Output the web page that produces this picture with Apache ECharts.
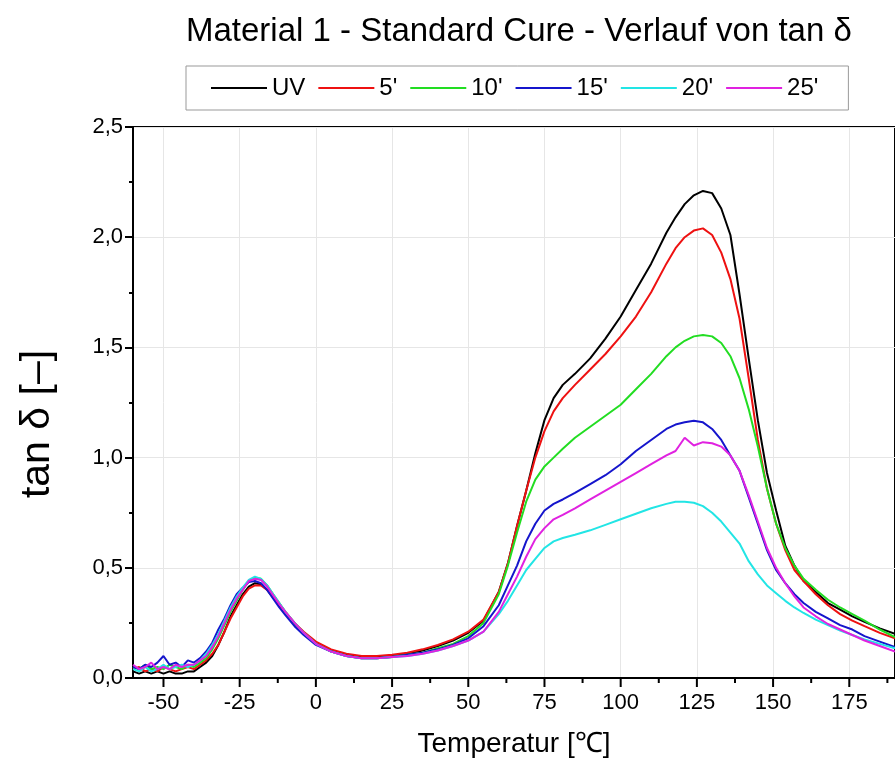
<!DOCTYPE html>
<html>
<head>
<meta charset="utf-8">
<script src="https://cdn.jsdelivr.net/npm/echarts@6/dist/echarts.min.js"></script>
<style>
html,body{margin:0;padding:0;background:#fff;}
#chart{width:895px;height:765px;}
</style>
</head>
<body>
<div id="chart"></div>
<script>
const titleText = "Material 1 - Standard Cure - Verlauf von tan δ";
const xAxisName = "Temperatur [℃]";
const yAxisName = "tan δ [–]";
const seriesNames = ["UV", "5'", "10'", "15'", "20'", "25'"];
const xTickValues = [-50, -25, 0, 25, 50, 75, 100, 125, 150, 175];
const xMinorTickValues = [-37.5, -12.5, 12.5, 37.5, 62.5, 87.5, 112.5, 137.5, 162.5, 187.5];

const temps = [-60,-58,-56,-54,-52,-50,-48,-46,-44,-42,-40,-38,-36,-34,-32,-30,-28,-26,-24,-22,-20,-18,-16,-14,-12,-10,
  -7,-4,0,
  5,10,15,20,25,30,35,40,45,50,55,
  60,63,66,69,72,75,78,81,
  85,90,95,100,105,110,115,
  118,121,124,127,130,133,136,139,142,145,148,151,154,157,160,
  164,168,172,176,180,
  185,190];

const uv = [0.03,0.02,0.03,0.02,0.03,0.02,0.03,0.02,0.02,0.03,0.03,0.05,0.07,0.10,0.15,0.21,0.28,0.33,0.38,0.415,0.43,0.425,0.40,0.365,0.33,0.295,
  0.245,0.205,0.16,
  0.125,0.105,0.095,0.095,0.10,0.11,0.125,0.145,0.17,0.205,0.26,
  0.39,0.52,0.69,0.85,1.02,1.17,1.27,1.33,
  1.38,1.45,1.54,1.64,1.76,1.88,2.02,
  2.09,2.15,2.19,2.21,2.20,2.13,2.01,1.74,1.45,1.17,0.93,0.76,0.60,0.51,0.44,
  0.39,0.34,0.31,0.28,0.255,
  0.225,0.20];

const m5 = [0.04,0.05,0.03,0.04,0.03,0.05,0.04,0.03,0.04,0.05,0.04,0.06,0.08,0.11,0.15,0.21,0.27,0.32,0.37,0.405,0.42,0.42,0.40,0.37,0.335,0.30,
  0.25,0.21,0.165,
  0.13,0.11,0.10,0.10,0.105,0.115,0.13,0.15,0.175,0.21,0.265,
  0.39,0.52,0.69,0.85,1.00,1.12,1.21,1.27,
  1.33,1.40,1.47,1.55,1.64,1.75,1.88,
  1.95,2.00,2.03,2.04,2.01,1.93,1.81,1.63,1.36,1.08,0.86,0.70,0.58,0.49,0.44,
  0.38,0.33,0.29,0.26,0.235,
  0.205,0.18];

const m10 = [0.05,0.04,0.06,0.04,0.05,0.04,0.06,0.05,0.04,0.06,0.05,0.07,0.09,0.13,0.18,0.24,0.30,0.35,0.40,0.44,0.455,0.45,0.42,0.38,0.34,0.30,
  0.25,0.205,0.155,
  0.12,0.10,0.09,0.09,0.095,0.105,0.115,0.135,0.155,0.19,0.25,
  0.38,0.51,0.66,0.80,0.90,0.96,1.00,1.04,
  1.09,1.14,1.19,1.24,1.31,1.38,1.46,
  1.50,1.53,1.55,1.556,1.55,1.52,1.46,1.36,1.22,1.05,0.86,0.70,0.59,0.51,0.45,
  0.40,0.355,0.32,0.29,0.26,
  0.22,0.185];

const m15 = [0.05,0.04,0.06,0.05,0.07,0.10,0.06,0.07,0.05,0.08,0.07,0.09,0.12,0.16,0.22,0.27,0.33,0.38,0.41,0.435,0.44,0.43,0.40,0.36,0.32,0.285,
  0.235,0.195,0.15,
  0.12,0.10,0.09,0.09,0.095,0.105,0.115,0.13,0.15,0.18,0.235,
  0.33,0.42,0.51,0.62,0.70,0.76,0.79,0.81,
  0.84,0.88,0.92,0.97,1.03,1.08,1.13,
  1.15,1.16,1.167,1.16,1.13,1.08,1.01,0.94,0.82,0.70,0.58,0.49,0.43,0.38,0.34,
  0.30,0.27,0.24,0.22,0.19,
  0.165,0.14];

const m20 = [0.04,0.03,0.05,0.03,0.04,0.06,0.04,0.05,0.06,0.05,0.06,0.08,0.11,0.15,0.20,0.26,0.32,0.37,0.41,0.445,0.46,0.45,0.42,0.38,0.34,0.30,
  0.25,0.205,0.155,
  0.12,0.10,0.09,0.09,0.095,0.10,0.11,0.125,0.145,0.17,0.21,
  0.29,0.35,0.42,0.49,0.54,0.59,0.62,0.635,
  0.65,0.67,0.695,0.72,0.745,0.77,0.79,
  0.80,0.80,0.795,0.78,0.75,0.71,0.66,0.61,0.53,0.47,0.42,0.385,0.35,0.32,0.295,
  0.265,0.24,0.215,0.195,0.175,
  0.155,0.135];

const m25 = [0.06,0.04,0.05,0.07,0.04,0.05,0.04,0.06,0.05,0.06,0.06,0.08,0.10,0.14,0.19,0.25,0.31,0.36,0.40,0.44,0.45,0.445,0.415,0.375,0.335,0.30,
  0.25,0.205,0.155,
  0.12,0.10,0.09,0.09,0.095,0.10,0.11,0.125,0.145,0.17,0.21,
  0.30,0.38,0.46,0.55,0.63,0.68,0.72,0.74,
  0.77,0.81,0.85,0.89,0.93,0.97,1.01,
  1.03,1.09,1.055,1.07,1.065,1.05,1.01,0.94,0.83,0.71,0.59,0.50,0.43,0.37,0.32,
  0.28,0.245,0.22,0.195,0.17,
  0.145,0.12];

const seriesValues = [uv, m5, m10, m15, m20, m25];
const colors = ["#000000", "#ee1111", "#22dd22", "#1515cc", "#22e5e5", "#e022e0"];

const FONT = "'Liberation Sans', Arial, sans-serif";
const chart = echarts.init(document.getElementById('chart'), null, {renderer: 'canvas'});

const series = seriesValues.map((vals, i) => ({
  name: seriesNames[i],
  type: 'line',
  xAxisIndex: 0,
  yAxisIndex: 0,
  symbol: 'none',
  showSymbol: false,
  animation: false,
  lineStyle: {width: 2, color: colors[i]},
  itemStyle: {color: colors[i]},
  data: temps.map((t, k) => [t, vals[k]])
}));

// x-axis tick marks (major and minor) placed through the axis scale
function tickSeries(name, values, len) {
  return {
    name: name,
    type: 'custom',
    xAxisIndex: 0,
    yAxisIndex: 0,
    clip: false,
    silent: true,
    z: 10,
    data: values.map(v => [v, 0]),
    renderItem: function (params, api) {
      const p = api.coord([api.value(0), api.value(1)]);
      return {
        type: 'line',
        shape: {x1: p[0], y1: p[1], x2: p[0], y2: p[1] + len},
        style: {stroke: '#000', lineWidth: 2}
      };
    }
  };
}
series.push(tickSeries('_majorTicks', xTickValues, 9));
series.push(tickSeries('_minorTicks', xMinorTickValues, 5));

chart.setOption({
  backgroundColor: '#ffffff',
  animation: false,
  title: {
    text: titleText,
    left: 181,
    top: 10,
    textStyle: {fontFamily: FONT, fontSize: 33, fontWeight: 'normal', color: '#000'}
  },
  legend: {
    data: seriesNames.map(n => ({name: n, icon: 'rect'})),
    left: 186,
    top: 66,
    orient: 'horizontal',
    borderColor: '#999',
    borderWidth: 1,
    padding: [10, 30, 10, 25],
    itemWidth: 56,
    itemHeight: 2,
    itemGap: 13,
    textStyle: {fontFamily: FONT, fontSize: 24, color: '#000'}
  },
  grid: {
    left: 133,
    top: 127,
    bottom: 87,
    right: -5,
    show: true,
    borderColor: '#000',
    borderWidth: 2,
    backgroundColor: 'transparent'
  },
  xAxis: {
    type: 'value',
    min: -60,
    max: 190,
    name: xAxisName,
    nameLocation: 'middle',
    nameGap: 52,
    nameTextStyle: {fontFamily: FONT, fontSize: 28, color: '#000'},
    axisLine: {show: true, onZero: false, lineStyle: {color: '#000', width: 2}},
    axisTick: {show: false, customValues: xTickValues},
    axisLabel: {show: true, customValues: xTickValues, fontFamily: FONT, fontSize: 22, color: '#000', margin: 14},
    splitLine: {show: true, lineStyle: {color: '#e6e6e6', width: 1}}
  },
  yAxis: {
    type: 'value',
    min: 0,
    max: 2.5,
    interval: 0.5,
    axisLine: {show: true, onZero: false, lineStyle: {color: '#000', width: 2}},
    axisTick: {show: true, inside: false, length: 8, lineStyle: {color: '#000', width: 2}},
    minorTick: {show: true, splitNumber: 2, length: 4, lineStyle: {color: '#000', width: 2}},
    axisLabel: {fontFamily: FONT, fontSize: 22, color: '#000', margin: 10,
      formatter: v => v.toFixed(1).replace('.', ',')},
    splitLine: {show: true, lineStyle: {color: '#e6e6e6', width: 1}}
  },
  graphic: [{
    type: 'text',
    x: 38,
    y: 424,
    rotation: Math.PI / 2,
    style: {text: yAxisName, fontFamily: FONT, fontSize: 41, fill: '#000', align: 'center', verticalAlign: 'middle'}
  }],
  series: series
});
</script>
</body>
</html>
